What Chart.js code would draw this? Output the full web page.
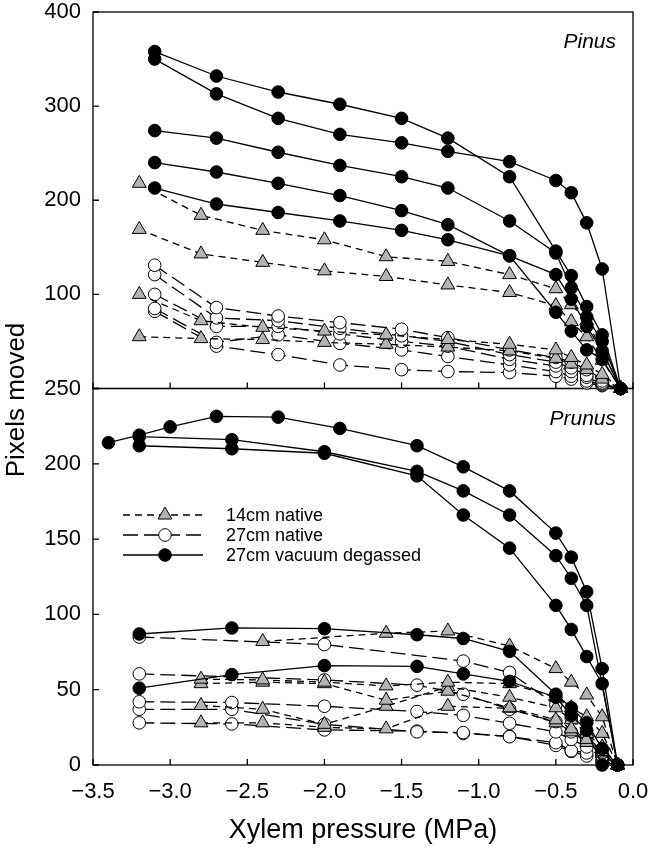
<!DOCTYPE html>
<html><head><meta charset="utf-8">
<script src="https://cdn.jsdelivr.net/npm/chart.js@4"></script>
<style>html,body{margin:0;padding:0;background:#fff}#wrap{width:650px;height:853px}</style>
</head><body><div id="wrap"><canvas id="c" width="650" height="853"></canvas></div>
<script>
// ---------- tick values ----------
const xTickValues = [-3.5, -3.0, -2.5, -2.0, -1.5, -1.0, -0.5, 0.0];
const pinusYTicks = [0, 100, 200, 300, 400];
const prunusYTicks = [0, 50, 100, 150, 200, 250];
const legendLabels = ['14cm native', '27cm native', '27cm vacuum degassed'];
const panelNames = ['Pinus', 'Prunus'];

// ---------- Pinus (top panel) ----------
const pinusVac1 = [[-3.1,358],[-2.7,332],[-2.3,315],[-1.9,302],[-1.5,287],[-1.2,266],[-0.8,225],[-0.5,146],[-0.4,120],[-0.3,87],[-0.2,57],[-0.08,0]];
const pinusVac2 = [[-3.1,350],[-2.7,313],[-2.3,287],[-1.9,270],[-1.5,261],[-1.2,252],[-0.8,241],[-0.5,221],[-0.4,208],[-0.3,176],[-0.2,127],[-0.08,0]];
const pinusVac3 = [[-3.1,274],[-2.7,266],[-2.3,251],[-1.9,237],[-1.5,225],[-1.2,213],[-0.8,178],[-0.5,144],[-0.4,107],[-0.3,76],[-0.2,50],[-0.08,0]];
const pinusVac4 = [[-3.1,240],[-2.7,230],[-2.3,218],[-1.9,205],[-1.5,189],[-1.2,174],[-0.8,141],[-0.5,121],[-0.4,95],[-0.3,66],[-0.2,40],[-0.08,0]];
const pinusVac5 = [[-3.1,213],[-2.7,196],[-2.3,187],[-1.9,178],[-1.5,168],[-1.2,158],[-0.8,141],[-0.5,81],[-0.4,61],[-0.3,41],[-0.2,31],[-0.08,0]];

const pinusNat27a = [[-3.1,131],[-2.7,86],[-2.3,77],[-1.9,70],[-1.5,63],[-1.2,54],[-0.8,41],[-0.5,33],[-0.4,28],[-0.3,20],[-0.2,8],[-0.08,0]];
const pinusNat27b = [[-3.1,121],[-2.7,75],[-2.3,72],[-1.9,64],[-1.5,56],[-1.2,50],[-0.8,36],[-0.5,28],[-0.4,22],[-0.3,14],[-0.2,6],[-0.08,0]];
const pinusNat27c = [[-3.1,100],[-2.7,66],[-2.3,66],[-1.9,58],[-1.5,50],[-1.2,45],[-0.8,31],[-0.5,24],[-0.4,18],[-0.3,12],[-0.2,5],[-0.08,0]];
const pinusNat27d = [[-3.1,85],[-2.7,49],[-2.3,57],[-1.9,48],[-1.5,41],[-1.2,34],[-0.8,25],[-0.5,18],[-0.4,13],[-0.3,8],[-0.2,4],[-0.08,0]];
const pinusNat27e = [[-3.1,82],[-2.7,45],[-2.3,36],[-1.9,25],[-1.5,20],[-1.2,18],[-0.8,17],[-0.5,13],[-0.4,10],[-0.3,6],[-0.2,3],[-0.08,0]];

const pinusNat14a = [[-3.2,218],[-2.8,184],[-2.4,168],[-2.0,158],[-1.6,140],[-1.2,135],[-0.8,121],[-0.5,106],[-0.4,89],[-0.3,72],[-0.2,40],[-0.08,0]];
const pinusNat14b = [[-3.2,169],[-2.8,143],[-2.4,134],[-2.0,125],[-1.6,119],[-1.2,110],[-0.8,102],[-0.5,88],[-0.4,71],[-0.3,55],[-0.2,30],[-0.08,0]];
const pinusNat14c = [[-3.2,100],[-2.8,72],[-2.4,65],[-2.0,61],[-1.6,57],[-1.2,52],[-0.8,47],[-0.5,41],[-0.4,33],[-0.3,25],[-0.2,15],[-0.08,0]];
const pinusNat14d = [[-3.2,55],[-2.8,53],[-2.4,52],[-2.0,49],[-1.6,47],[-1.2,44],[-0.8,40],[-0.5,32],[-0.4,26],[-0.3,20],[-0.2,10],[-0.08,0]];

// ---------- Prunus (bottom panel) ----------
const prunusVac1 = [[-3.4,214],[-3.2,219],[-3.0,224.5],[-2.7,231.5],[-2.3,231],[-1.9,223.5],[-1.4,212],[-1.1,198],[-0.8,182],[-0.5,154],[-0.4,138],[-0.3,115],[-0.2,64],[-0.1,0]];
const prunusVac2 = [[-3.2,218],[-2.6,216],[-2.0,208],[-1.4,195],[-1.1,182],[-0.8,166],[-0.5,139],[-0.4,124],[-0.3,106],[-0.1,0]];
const prunusVac3 = [[-3.2,212],[-2.6,210],[-2.0,207],[-1.4,192],[-1.1,166],[-0.8,144],[-0.5,106],[-0.4,90],[-0.3,72],[-0.2,54],[-0.1,0]];
const prunusVac4 = [[-3.2,87],[-2.6,91],[-2.0,90.5],[-1.4,86.5],[-1.1,84],[-0.8,75.5],[-0.5,47],[-0.4,38],[-0.3,28],[-0.2,11],[-0.1,0]];
const prunusVac5 = [[-3.2,51],[-2.6,60],[-2.0,66],[-1.4,65.5],[-1.1,60.5],[-0.8,55.5],[-0.5,45],[-0.4,33],[-0.3,23],[-0.2,0]];

const prunusNat27a = [[-3.2,85],[-2.0,80],[-1.1,69],[-0.8,61.4],[-0.5,40],[-0.4,31],[-0.3,20],[-0.2,8],[-0.1,0]];
const prunusNat27b = [[-3.2,60.5],[-2.0,56.5],[-1.4,53],[-1.1,47],[-0.8,37],[-0.5,28.8],[-0.4,22],[-0.3,16.6],[-0.2,6],[-0.1,0]];
const prunusNat27c = [[-3.2,42],[-2.6,41.5],[-2.0,39],[-1.4,35.5],[-1.1,33],[-0.8,27.7],[-0.5,22],[-0.4,17],[-0.3,12],[-0.2,5],[-0.1,0]];
const prunusNat27d = [[-3.2,37],[-2.6,37],[-2.0,27],[-1.4,22],[-1.1,21.5],[-0.8,18.8],[-0.5,14.8],[-0.4,9.5],[-0.3,8],[-0.2,3],[-0.1,0]];
const prunusNat27e = [[-3.2,28],[-2.6,27.3],[-2.0,23.3],[-1.4,22.5],[-1.1,21],[-0.8,19],[-0.5,13],[-0.4,9],[-0.3,6],[-0.2,2],[-0.1,0]];

const prunusNat14a = [[-2.4,82],[-1.6,87.5],[-1.2,89],[-0.8,79],[-0.5,64],[-0.4,55],[-0.3,46.5],[-0.2,32],[-0.1,0]];
const prunusNat14b = [[-2.8,57],[-2.4,56.5],[-2.0,55],[-1.6,52.5],[-1.2,55],[-0.8,54],[-0.5,45],[-0.4,38],[-0.3,32],[-0.2,21],[-0.1,0]];
const prunusNat14c = [[-2.8,54],[-2.4,55],[-2.0,54],[-1.6,43],[-1.2,49],[-0.8,38],[-0.5,30],[-0.4,24],[-0.3,17],[-0.2,9],[-0.1,0]];
const prunusNat14d = [[-2.8,39.5],[-2.4,37],[-2.0,27],[-1.6,39],[-1.2,52],[-0.8,45],[-0.5,38],[-0.4,30],[-0.3,21],[-0.2,12],[-0.1,0]];
const prunusNat14e = [[-2.8,28],[-2.4,28],[-2.0,25],[-1.6,24],[-1.2,39],[-0.8,37.7],[-0.5,28],[-0.4,22],[-0.3,15],[-0.2,8],[-0.1,0]];

// ---------- styles ----------
const FONT = "'Liberation Sans', Arial, Helvetica, sans-serif";
const STYLES = {
  nat14: {dash: [7, 5], pointStyle: 'triangle', radius: 8, fill: '#b3b3b3'},
  nat27: {dash: [15, 6], pointStyle: 'circle', radius: 6.3, fill: '#ffffff'},
  vac:   {dash: [], pointStyle: 'circle', radius: 6.3, fill: '#000000'}
};

function mk(points, group, axis) {
  const s = STYLES[group];
  return {
    data: points.map(p => ({x: p[0], y: p[1]})),
    yAxisID: axis,
    showLine: true,
    borderColor: '#000',
    borderWidth: 1.3,
    borderDash: s.dash,
    tension: 0,
    pointStyle: s.pointStyle,
    pointRadius: s.radius,
    pointHoverRadius: s.radius,
    pointBackgroundColor: s.fill,
    pointBorderColor: '#000',
    pointBorderWidth: 1,
    clip: false
  };
}

const datasets = [
  mk(pinusVac1,'vac','yTop'), mk(pinusVac2,'vac','yTop'), mk(pinusVac3,'vac','yTop'), mk(pinusVac4,'vac','yTop'), mk(pinusVac5,'vac','yTop'),
  mk(prunusVac1,'vac','yBot'), mk(prunusVac2,'vac','yBot'), mk(prunusVac3,'vac','yBot'), mk(prunusVac4,'vac','yBot'), mk(prunusVac5,'vac','yBot'),
  mk(pinusNat14a,'nat14','yTop'), mk(pinusNat14b,'nat14','yTop'), mk(pinusNat14c,'nat14','yTop'), mk(pinusNat14d,'nat14','yTop'),
  mk(prunusNat14a,'nat14','yBot'), mk(prunusNat14b,'nat14','yBot'), mk(prunusNat14c,'nat14','yBot'), mk(prunusNat14d,'nat14','yBot'), mk(prunusNat14e,'nat14','yBot'),
  mk(pinusNat27a,'nat27','yTop'), mk(pinusNat27b,'nat27','yTop'), mk(pinusNat27c,'nat27','yTop'), mk(pinusNat27d,'nat27','yTop'), mk(pinusNat27e,'nat27','yTop'),
  mk(prunusNat27a,'nat27','yBot'), mk(prunusNat27b,'nat27','yBot'), mk(prunusNat27c,'nat27','yBot'), mk(prunusNat27d,'nat27','yBot'), mk(prunusNat27e,'nat27','yBot')
];

function drawMarker(ctx, style, x, y) {
  const s = STYLES[style];
  ctx.save();
  ctx.setLineDash([]);
  ctx.lineWidth = 1;
  ctx.strokeStyle = '#000';
  ctx.fillStyle = s.fill;
  ctx.beginPath();
  if (s.pointStyle === 'triangle') {
    let a = 0;
    ctx.moveTo(x + Math.sin(a) * s.radius, y - Math.cos(a) * s.radius);
    a += 2 * Math.PI / 3;
    ctx.lineTo(x + Math.sin(a) * s.radius, y - Math.cos(a) * s.radius);
    a += 2 * Math.PI / 3;
    ctx.lineTo(x + Math.sin(a) * s.radius, y - Math.cos(a) * s.radius);
    ctx.closePath();
  } else {
    ctx.arc(x, y, s.radius, 0, Math.PI * 2);
  }
  ctx.fill();
  ctx.stroke();
  ctx.restore();
}

const framePlugin = {
  id: 'frame',
  beforeDatasetsDraw(chart) {
    const ctx = chart.ctx;
    const xs = chart.scales.x;
    const panels = [chart.scales.yTop, chart.scales.yBot];
    ctx.save();
    ctx.strokeStyle = '#000';
    ctx.lineWidth = 1.3;
    ctx.setLineDash([]);
    panels.forEach((ys, i) => {
      const L = xs.left, R = xs.right, T = ys.top, B = ys.bottom;
      ctx.strokeRect(L, T, R - L, B - T);
      ctx.beginPath();
      xTickValues.forEach(v => {
        const px = xs.getPixelForValue(v);
        ctx.moveTo(px, B); ctx.lineTo(px, B - 6);
      });
      const yt = i === 0 ? pinusYTicks : prunusYTicks;
      yt.forEach(v => {
        const py = ys.getPixelForValue(v);
        ctx.moveTo(L, py); ctx.lineTo(L + 6, py);
      });
      ctx.stroke();
      ctx.fillStyle = '#000';
      ctx.font = 'italic 21px ' + FONT;
      ctx.textAlign = 'right';
      ctx.textBaseline = 'alphabetic';
      ctx.fillText(panelNames[i], R - 17, T + 36);
    });
    ctx.save();
    ctx.translate(24, 400);
    ctx.rotate(-Math.PI / 2);
    ctx.font = '26px ' + FONT;
    ctx.textAlign = 'center';
    ctx.textBaseline = 'alphabetic';
    ctx.fillText('Pixels moved', 0, 0);
    ctx.restore();
    const groups = ['nat14', 'nat27', 'vac'];
    groups.forEach((g, k) => {
      const y = 515 + k * 20;
      ctx.save();
      ctx.lineWidth = 1.3;
      ctx.setLineDash(STYLES[g].dash);
      ctx.beginPath();
      ctx.moveTo(123, y); ctx.lineTo(203, y);
      ctx.stroke();
      ctx.restore();
      drawMarker(ctx, g, 165, y);
      ctx.fillStyle = '#000';
      ctx.font = '18px ' + FONT;
      ctx.textAlign = 'left';
      ctx.textBaseline = 'middle';
      ctx.fillText(legendLabels[k], 226, y + 1);
    });
    ctx.restore();
  }
};

const fmtX = v => (v === 0 ? '0.0' : v.toFixed(1).replace('-', '\u2212'));
function noPadX(s) { s.height = 88; s.paddingLeft = 0; s.paddingRight = 0; }
function noPadY(s) { s.width = 93; s.paddingTop = 0; s.paddingBottom = 0; }

new Chart(document.getElementById('c'), {
  type: 'scatter',
  data: {datasets},
  options: {
    responsive: false,
    animation: false,
    devicePixelRatio: 1,
    layout: {padding: {top: 12, right: 17, left: 0, bottom: 0}},
    plugins: {legend: {display: false}, tooltip: {enabled: false}},
    events: [],
    scales: {
      x: {
        type: 'linear', min: -3.5, max: 0,
        afterBuildTicks(s) { s.ticks = xTickValues.map(v => ({value: v})); },
        afterFit: noPadX,
        grid: {display: false, drawTicks: false},
        border: {display: false},
        ticks: {color: '#000', font: {family: FONT, size: 22, lineHeight: 1}, padding: 16, maxRotation: 0, autoSkip: false, callback: v => fmtX(v)},
        title: {display: true, text: 'Xylem pressure (MPa)', color: '#000', font: {family: FONT, size: 27, lineHeight: 1.2}, padding: {top: 0, bottom: 6}}
      },
      yBot: {
        type: 'linear', position: 'left', stack: 'panels', stackWeight: 1, min: 0, max: 250,
        afterBuildTicks(s) { s.ticks = prunusYTicks.map(v => ({value: v})); },
        afterFit: noPadY,
        grid: {display: false, drawTicks: false},
        border: {display: false},
        ticks: {color: '#000', font: {family: FONT, size: 22, lineHeight: 1}, padding: 12, autoSkip: false, callback: v => String(v)}
      },
      yTop: {
        type: 'linear', position: 'left', stack: 'panels', stackWeight: 1, min: 0, max: 400,
        afterBuildTicks(s) { s.ticks = pinusYTicks.map(v => ({value: v})); },
        afterFit: noPadY,
        grid: {display: false, drawTicks: false},
        border: {display: false},
        ticks: {color: '#000', font: {family: FONT, size: 22, lineHeight: 1}, padding: 12, autoSkip: false, callback: v => (v === 0 ? '' : String(v))}
      }
    }
  },
  plugins: [framePlugin]
});
</script>
</body></html>
